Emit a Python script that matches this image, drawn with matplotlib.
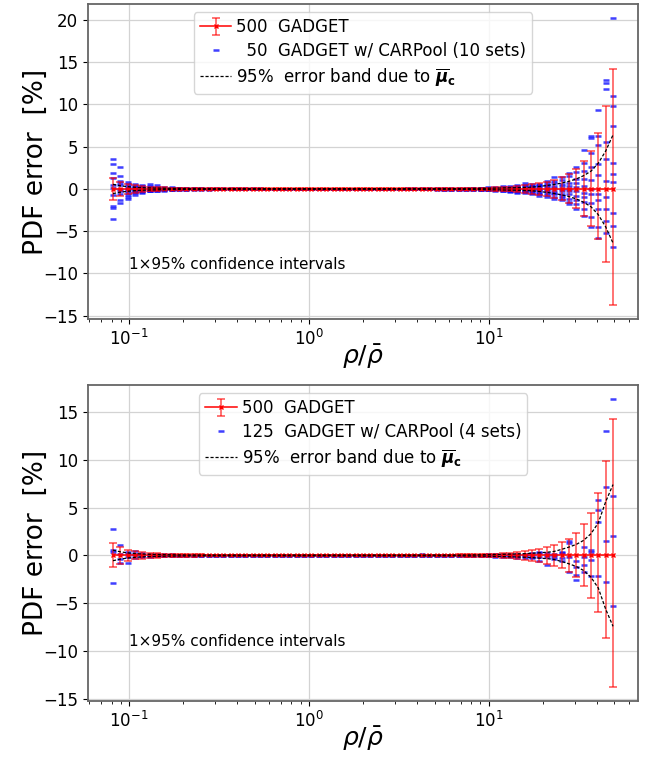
import numpy as np
import matplotlib
matplotlib.use('Agg')
import matplotlib.pyplot as plt

# ---------------- data ----------------
rho = [0.0815, 0.0895, 0.0983, 0.1080, 0.1187, 0.1304, 0.1433, 0.1574, 0.1729, 0.1900,
       0.2088, 0.2294, 0.2520, 0.2769, 0.3042, 0.3343, 0.3673, 0.4035, 0.4434, 0.4871,
       0.5352, 0.5880, 0.6461, 0.7099, 0.7799, 0.8569, 0.9415, 1.0344, 1.1365, 1.2487,
       1.3720, 1.5074, 1.6562, 1.8197, 1.9993, 2.1967, 2.4135, 2.6518, 2.9136, 3.2012,
       3.5172, 3.8644, 4.2459, 4.6650, 5.1255, 5.6314, 6.1874, 6.7982, 7.4692, 8.2066,
       9.0167, 9.9068, 10.885, 11.959, 13.140, 14.437, 15.862, 17.428, 19.148, 21.038,
       23.115, 25.397, 27.904, 30.658, 33.685, 37.010, 40.663, 44.677, 49.087]

# 500 GADGET : 95% confidence interval (upper / lower half widths, %)
gadget_err_up = [1.25, 0.88, 0.58, 0.42, 0.33, 0.27, 0.22, 0.18, 0.15, 0.13,
                 0.12, 0.11, 0.10, 0.08, 0.08, 0.08, 0.08, 0.08, 0.08, 0.08,
                 0.08, 0.07, 0.07, 0.07, 0.07, 0.07, 0.07, 0.07, 0.07, 0.07,
                 0.07, 0.07, 0.07, 0.07, 0.07, 0.07, 0.07, 0.07, 0.07, 0.07,
                 0.07, 0.08, 0.08, 0.08, 0.08, 0.08, 0.09, 0.10, 0.11, 0.12,
                 0.14, 0.16, 0.19, 0.22, 0.28, 0.35, 0.45, 0.55, 0.70, 0.88,
                 1.10, 1.42, 1.75, 2.33, 3.27, 4.45, 6.57, 9.87, 14.2]
gadget_err_lo = [1.25, 0.85, 0.58, 0.42, 0.33, 0.27, 0.22, 0.18, 0.15, 0.13,
                 0.12, 0.11, 0.10, 0.08, 0.08, 0.08, 0.08, 0.08, 0.08, 0.08,
                 0.08, 0.07, 0.07, 0.07, 0.07, 0.07, 0.07, 0.07, 0.07, 0.07,
                 0.07, 0.07, 0.07, 0.07, 0.07, 0.07, 0.07, 0.07, 0.07, 0.07,
                 0.07, 0.08, 0.08, 0.08, 0.08, 0.08, 0.09, 0.10, 0.11, 0.12,
                 0.14, 0.16, 0.19, 0.22, 0.28, 0.35, 0.45, 0.55, 0.70, 0.88,
                 1.10, 1.30, 1.70, 2.30, 3.17, 4.42, 5.90, 8.60, 13.7]

# 95% error band due to mu_c (half widths, %)
band_top = [0.55, 0.38, 0.27, 0.20, 0.15, 0.12, 0.10, 0.08, 0.07, 0.06,
            0.05, 0.05, 0.05, 0.04, 0.04, 0.04, 0.04, 0.04, 0.04, 0.04,
            0.04, 0.04, 0.04, 0.04, 0.04, 0.04, 0.04, 0.04, 0.04, 0.04,
            0.04, 0.04, 0.04, 0.04, 0.04, 0.04, 0.04, 0.04, 0.04, 0.04,
            0.04, 0.04, 0.04, 0.04, 0.04, 0.04, 0.04, 0.04, 0.05, 0.06,
            0.07, 0.08, 0.10, 0.12, 0.14, 0.15, 0.18, 0.22, 0.30, 0.41,
            0.53, 0.70, 0.90, 1.18, 1.57, 2.10, 3.05, 4.48, 6.40]
band_bot = [0.55, 0.38, 0.27, 0.20, 0.15, 0.12, 0.10, 0.08, 0.07, 0.06,
            0.05, 0.05, 0.05, 0.04, 0.04, 0.04, 0.04, 0.04, 0.04, 0.04,
            0.04, 0.04, 0.04, 0.04, 0.04, 0.04, 0.04, 0.04, 0.04, 0.04,
            0.04, 0.04, 0.04, 0.04, 0.04, 0.04, 0.04, 0.04, 0.04, 0.04,
            0.04, 0.04, 0.04, 0.04, 0.04, 0.04, 0.04, 0.04, 0.05, 0.06,
            0.07, 0.08, 0.10, 0.12, 0.14, 0.16, 0.19, 0.23, 0.28, 0.33,
            0.42, 0.63, 0.87, 1.15, 1.57, 2.27, 3.40, 5.60, 7.40]

# 50 GADGET w/ CARPool, 10 sets : one row per rho bin
carpool10_left = [
    [3.6, 3.0, 1.9, 1.35, 0.45, 0.1, -0.7, -2.05, -2.3, -3.55],
    [2.55, 1.5, 0.95, 0.75, 0.45, 0.0, -0.3, -0.55, -1.3, -1.65],
    [0.85, 0.55, 0.3, 0.1, 0.0, -0.2, -0.45, -0.7, -1.0, -1.2],
    [0.6, 0.4, 0.25, 0.1, 0.0, -0.1, -0.2, -0.35, -0.5, -0.7],
    [0.45, 0.3, 0.2, 0.1, 0.0, -0.05, -0.15, -0.25, -0.35, -0.45],
    [0.55, 0.3, 0.2, 0.1, 0.05, -0.05, -0.1, -0.2, -0.25, -0.3],
    [0.5, 0.2, 0.1, 0.05, 0.0, -0.05, -0.1, -0.15, -0.2, -0.25],
    [0.25, 0.15, 0.1, 0.05, 0.0, -0.03, -0.06, -0.1, -0.15, -0.2],
    [0.2, 0.12, 0.08, 0.04, 0.0, -0.02, -0.05, -0.08, -0.12, -0.15],
    [0.15, 0.1, 0.06, 0.03, 0.0, -0.02, -0.04, -0.06, -0.09, -0.12],
    [0.12, 0.08, 0.05, 0.02, 0.0, -0.01, -0.03, -0.05, -0.07, -0.1],
    [0.1, 0.06, 0.04, 0.02, 0.0, -0.01, -0.02, -0.04, -0.06, -0.08],
]
carpool10_mid = [
    [0.09, 0.06, 0.04, 0.02, 0, -0.01, -0.02, -0.04, -0.06, -0.08],
    [0.08, 0.05, 0.03, 0.02, 0, -0.01, -0.02, -0.03, -0.05, -0.07],
    [0.06, 0.04, 0.03, 0.01, 0, 0, -0.01, -0.03, -0.04, -0.06],
    [0.06, 0.04, 0.03, 0.01, 0, 0, -0.01, -0.03, -0.04, -0.06],
    [0.06, 0.04, 0.03, 0.01, 0, 0, -0.01, -0.03, -0.04, -0.06],
    [0.06, 0.04, 0.03, 0.01, 0, 0, -0.01, -0.03, -0.04, -0.06],
    [0.06, 0.04, 0.03, 0.01, 0, 0, -0.01, -0.03, -0.04, -0.06],
    [0.06, 0.04, 0.03, 0.01, 0, 0, -0.01, -0.03, -0.04, -0.06],
    [0.06, 0.04, 0.03, 0.01, 0, 0, -0.01, -0.03, -0.04, -0.06],
    [0.04, 0.03, 0.02, 0.01, 0, 0, -0.01, -0.02, -0.03, -0.04],
    [0.04, 0.03, 0.02, 0.01, 0, 0, -0.01, -0.02, -0.03, -0.04],
    [0.04, 0.03, 0.02, 0.01, 0, 0, -0.01, -0.02, -0.03, -0.04],
    [0.04, 0.03, 0.02, 0.01, 0, 0, -0.01, -0.02, -0.03, -0.04],
    [0.04, 0.03, 0.02, 0.01, 0, 0, -0.01, -0.02, -0.03, -0.04],
    [0.04, 0.03, 0.02, 0.01, 0, 0, -0.01, -0.02, -0.03, -0.04],
    [0.04, 0.03, 0.02, 0.01, 0, 0, -0.01, -0.02, -0.03, -0.04],
    [0.04, 0.03, 0.02, 0.01, 0, 0, -0.01, -0.02, -0.03, -0.04],
    [0.04, 0.03, 0.02, 0.01, 0, 0, -0.01, -0.02, -0.03, -0.04],
    [0.04, 0.03, 0.02, 0.01, 0, 0, -0.01, -0.02, -0.03, -0.04],
    [0.04, 0.03, 0.02, 0.01, 0, 0, -0.01, -0.02, -0.03, -0.04],
    [0.04, 0.03, 0.02, 0.01, 0, 0, -0.01, -0.02, -0.03, -0.04],
    [0.04, 0.03, 0.02, 0.01, 0, 0, -0.01, -0.02, -0.03, -0.04],
    [0.04, 0.03, 0.02, 0.01, 0, 0, -0.01, -0.02, -0.03, -0.04],
    [0.04, 0.03, 0.02, 0.01, 0, 0, -0.01, -0.02, -0.03, -0.04],
    [0.04, 0.03, 0.02, 0.01, 0, 0, -0.01, -0.02, -0.03, -0.04],
    [0.04, 0.03, 0.02, 0.01, 0, 0, -0.01, -0.02, -0.03, -0.04],
    [0.05, 0.03, 0.02, 0.01, 0, 0, -0.01, -0.02, -0.03, -0.05],
    [0.05, 0.03, 0.02, 0.01, 0, 0, -0.01, -0.02, -0.03, -0.05],
    [0.12, 0.04, 0.02, 0.01, 0, 0, -0.01, -0.02, -0.04, -0.05],
    [0.06, 0.04, 0.02, 0.01, 0, 0, -0.01, -0.02, -0.04, -0.05],
    [0.13, 0.04, 0.02, 0.01, 0, 0, -0.01, -0.02, -0.04, -0.06],
    [0.07, 0.04, 0.02, 0.01, 0, 0, -0.01, -0.03, -0.05, -0.06],
    [0.12, 0.05, 0.02, 0.01, 0, -0.01, -0.02, -0.03, -0.05, -0.07],
    [0.06, 0.04, 0.02, 0.01, 0, -0.01, -0.03, -0.05, -0.08, -0.10],
    [0.06, 0.04, 0.02, 0.01, 0, -0.01, -0.03, -0.05, -0.08, -0.12],
    [0.07, 0.04, 0.02, 0.01, 0, -0.01, -0.03, -0.06, -0.10, -0.15],
    [0.08, 0.05, 0.03, 0.01, 0, -0.01, -0.03, -0.06, -0.10, -0.15],
    [0.10, 0.06, 0.03, 0.02, 0, -0.02, -0.04, -0.06, -0.10, -0.13],
]
carpool10_right = [
    [0.15, 0.1, 0.06, 0.03, 0, -0.02, -0.04, -0.07, -0.1, -0.14],
    [0.2, 0.12, 0.08, 0.04, 0, -0.02, -0.05, -0.08, -0.12, -0.18],
    [0.25, 0.15, 0.1, 0.05, 0, -0.02, -0.06, -0.1, -0.15, -0.22],
    [0.3, 0.2, 0.12, 0.05, 0, -0.03, -0.1, -0.15, -0.2, -0.3],
    [0.35, 0.25, 0.15, 0.1, 0, -0.05, -0.1, -0.2, -0.3, -0.37],
    [0.45, 0.35, 0.25, 0.1, 0, -0.05, -0.15, -0.26, -0.35, -0.45],
    [0.65, 0.41, 0.3, 0.15, 0, -0.1, -0.2, -0.3, -0.37, -0.45],
    [0.55, 0.4, 0.3, 0.15, 0.05, -0.05, -0.2, -0.3, -0.45, -0.6],
    [0.6, 0.5, 0.35, 0.2, 0.05, -0.1, -0.3, -0.5, -0.65, -0.84],
    [0.95, 0.7, 0.5, 0.3, 0.1, -0.1, -0.3, -0.5, -0.75, -0.95],
    [1.39, 0.9, 0.7, 0.4, 0.1, -0.2, -0.5, -0.65, -0.9, -1.24],
    [1.4, 1.04, 0.6, 0.3, 0.0, -0.25, -0.55, -0.8, -1.04, -1.3],
    [1.9, 1.5, 0.73, 0.3, 0.0, -0.3, -0.65, -1.24, -1.5, -1.83],
    [2.6, 2.0, 1.2, 0.7, 0.2, -0.3, -0.8, -1.3, -1.83, -2.4],
    [4.6, 3.1, 2.1, 1.2, 0.4, -0.45, -1.0, -1.6, -2.4, -3.2],
    [6.25, 6.05, 4.2, 2.6, 1.1, 0.0, -0.65, -1.7, -3.3, -4.45],
    [9.3, 6.3, 5.24, 2.96, 1.71, -0.57, -1.35, -2.4, -4.5, -5.75],
    [12.9, 12.6, 11.8, 5.5, 3.6, 0.9, -1.0, -2.4, -3.8, -5.2],
    [20.2, 11.05, 9.87, 7.43, 3.04, 1.74, 0.84, -2.89, -4.34, -6.89],
]

# 125 GADGET w/ CARPool, 4 sets : one row per rho bin
carpool4_left = [
    [2.8, 0.55, 0.4, -2.9],
    [1.12, 0.1, -0.35, -0.77],
    [0.35, 0.15, -0.2, -0.77],
    [0.42, 0.1, 0.0, -0.25],
    [0.3, 0.05, -0.1, -0.2],
    [0.2, 0.05, -0.05, -0.15],
    [0.2, 0.05, -0.05, -0.1],
    [0.2, 0.03, -0.03, -0.08],
    [0.1, 0.02, -0.02, -0.06],
    [0.08, 0.02, -0.02, -0.05],
    [0.08, 0.02, -0.02, -0.05],
    [0.08, 0.02, -0.02, -0.05],
]
carpool4_mid = [[0.03, 0.01, -0.01, -0.03]] * 30 + [
    [0.12, 0.01, -0.01, -0.03],
    [0.03, 0.01, -0.01, -0.03],
    [0.03, 0.01, -0.01, -0.03],
    [0.04, 0.01, -0.02, -0.04],
    [0.04, 0.01, -0.02, -0.05],
    [0.05, 0.01, -0.02, -0.06],
    [0.06, 0.02, -0.02, -0.06],
    [0.07, 0.02, -0.03, -0.07],
]
carpool4_right = [
    [0.08, 0.02, -0.03, -0.08],
    [0.1, 0.03, -0.04, -0.1],
    [0.12, 0.04, -0.05, -0.12],
    [0.15, 0.05, -0.06, -0.15],
    [0.15, 0.05, -0.1, -0.2],
    [0.2, 0.05, -0.1, -0.25],
    [0.2, 0.05, -0.1, -0.25],
    [0.25, 0.05, -0.15, -0.3],
    [0.38, 0.21, -0.21, -0.56],
    [0.21, 0.03, -0.14, -1.0],
    [0.2, 0.05, -0.21, -0.38],
    [0.38, 0.21, -0.31, -0.56],
    [1.54, 1.26, -0.2, -1.71],
    [-0.56, -1.19, -2.06, -2.52],
    [0.84, -0.14, -1.0, -1.78],
    [0.6, 0.4, -0.5, -2.1],
    [5.8, 4.76, 3.5, -2.13],
    [13.04, 7.1, 1.5, -2.8],
    [16.3, 6.2, 2.06, -5.24],
]

labels_top = ['500  GADGET', '  50  GADGET w/ CARPool (10 sets)',
              r'95%  error band due to $\overline{\boldsymbol{\mu}}_{\mathbf{c}}$']
labels_bot = ['500  GADGET', '125  GADGET w/ CARPool (4 sets)',
              r'95%  error band due to $\overline{\boldsymbol{\mu}}_{\mathbf{c}}$']
note_text = '1\u00d795% confidence intervals'

# ---------------- plotting ----------------
plt.rcParams['font.family'] = ['DejaVu Sans']
fig = plt.figure(figsize=(6.48, 7.58), dpi=100)
ax1 = fig.add_axes([88/648, 1-319/758, 550/648, 315/758])
ax2 = fig.add_axes([88/648, 1-701/758, 550/648, 316/758])

x = np.array(rho)
zero = np.zeros_like(x)
yerr = np.array([gadget_err_lo, gadget_err_up])


def draw(ax, rows, band, labels):
    rows = np.array(rows, dtype=float)
    nset = rows.shape[1]
    xs = np.repeat(x, nset)
    ys = rows.ravel()
    ax.grid(True, color='#d3d3d3', lw=0.9, zorder=0)
    ax.set_axisbelow(True)
    hb, = ax.plot(xs, ys, ls='none', marker='_', color='blue', ms=5, mew=1.8,
                  alpha=0.75, zorder=2)
    he = ax.errorbar(x, zero, yerr=yerr, fmt='-', color='red', marker='x', ms=2.5,
                     lw=1.1, ecolor=(1, 0, 0, 0.55), elinewidth=1.4, capsize=3.2,
                     capthick=1.4, zorder=3)
    band = np.array(band)
    hl, = ax.plot(x, band, color='black', lw=0.9, ls=(0, (2.5, 1.5)), zorder=4)
    ax.plot(x, -band, color='black', lw=0.9, ls=(0, (2.5, 1.5)), zorder=4)
    ax.set_xscale('log')
    ax.set_xlabel(r'$\rho/\bar{\rho}$', fontsize=18, labelpad=-4)
    ax.set_ylabel('PDF error  [%]', fontsize=19, labelpad=-4)
    ax.tick_params(labelsize=12)
    ax.text(0.1, -9, note_text, fontsize=11, va='center', ha='left')
    ax.legend([he, hb, hl], labels, loc='upper center', fontsize=12,
              framealpha=0.8, handlelength=1.9, handletextpad=0.3,
              borderpad=0.35, labelspacing=0.35)
    for s in ax.spines.values():
        s.set_color('#666666')
        s.set_linewidth(1.3)


draw(ax1, carpool10_left + carpool10_mid + carpool10_right, band_top, labels_top)
draw(ax2, carpool4_left + carpool4_mid + carpool4_right, band_bot, labels_bot)

fig.savefig('out.png', dpi=100)
